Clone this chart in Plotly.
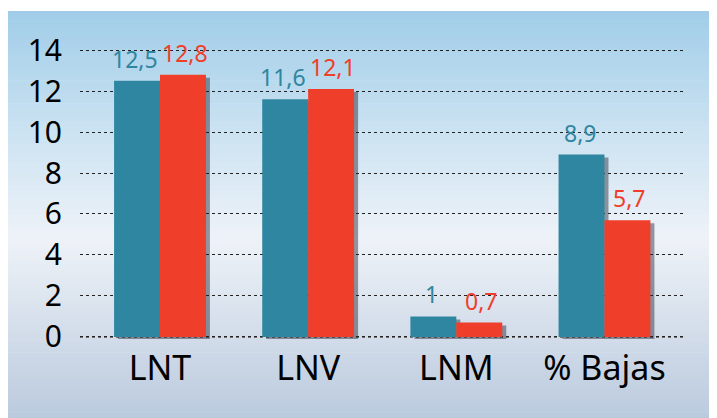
import plotly.graph_objects as go

categories = ["LNT", "LNV", "LNM", "% Bajas"]
serie_a = [12.5, 11.6, 1.0, 8.9]
serie_b = [12.8, 12.1, 0.7, 5.7]
y_ticks = [0, 2, 4, 6, 8, 10, 12, 14]

TEAL = "#2e86a0"
RED = "#ef3e2a"
FONT = "Noto Sans"

def fmt(v):
    return f"{v:g}".replace(".", ",")

# the page body has an 8px margin; figure coordinates are shifted by it
OFF = 8
W, H = 717, 418
L = 80 - OFF
R = W - (683 - OFF)
yr = [-0.1, 14.1]
px_per_unit = (337 - 50) / 14.0
T = round(50 - OFF - 0.1 * px_per_unit)
B = round(H - (337 - OFF + 0.1 * px_per_unit))
pw = W - L - R
ph = H - T - B
xr = [-0.54, 3.53]
dx = 4 / pw * (xr[1] - xr[0])
dy = 3 / ph * (yr[1] - yr[0])
BW = 0.31

fig = go.Figure()

# drop shadows behind the bars
for vals, off in ((serie_a, -BW), (serie_b, 0.0)):
    fig.add_trace(go.Bar(x=categories, y=vals, base=[-dy] * len(vals),
                         marker=dict(color="rgba(30,35,50,0.45)", line=dict(width=0)),
                         width=BW, offset=off + dx, hoverinfo="skip", showlegend=False,
                         cliponaxis=False))

fig.add_trace(go.Bar(x=categories, y=serie_a, name="A", marker=dict(color=TEAL, line=dict(width=0)),
                     width=BW, offset=-BW, cliponaxis=False))
fig.add_trace(go.Bar(x=categories, y=serie_b, name="B", marker=dict(color=RED, line=dict(width=0)),
                     width=BW, offset=0.0, cliponaxis=False))

bar_px = BW * pw / (xr[1] - xr[0])
annotations = []
for vals, color, sign in ((serie_a, TEAL, -1), (serie_b, RED, 1)):
    for c, v in zip(categories, vals):
        annotations.append(dict(x=c, y=v, xref="x", yref="y", text=fmt(v), showarrow=False,
                                xanchor="center", yanchor="bottom", xshift=sign * (bar_px / 2 + 2),
                                yshift=5, borderpad=0, font=dict(color=color, size=23, family=FONT)))

# gradient panel background via stripes (pixel based -> plot-paper coords)
stops = [(0.0, (160, 205, 232)), (0.3, (205, 227, 242)), (0.55, (238, 242, 248)), (1.0, (184, 200, 220))]
def col(t):
    for (t0, c0), (t1, c1) in zip(stops, stops[1:]):
        if t0 <= t <= t1:
            f = (t - t0) / (t1 - t0) if t1 > t0 else 0
            return "rgb(%d,%d,%d)" % tuple(round(a + (b - a) * f) for a, b in zip(c0, c1))
    return "rgb(%d,%d,%d)" % stops[-1][1]

shapes = []
n = 90
ptop, pbot = 11 - OFF, H
for i in range(n):
    py1 = ptop + (pbot - ptop) * i / n
    py0 = ptop + (pbot - ptop) * (i + 1) / n + 0.6
    shapes.append(dict(type="rect", xref="paper", yref="paper",
                       x0=(8 - OFF - L) / pw, x1=(W - L) / pw,
                       y0=(H - B - py0) / ph, y1=(H - B - py1) / ph,
                       fillcolor=col((i + 0.5) / n), line=dict(width=0), layer="below"))
shapes.append(dict(type="line", xref="paper", yref="y", x0=0, x1=1, y0=0, y1=0,
                   line=dict(color="#707070", width=2, dash="dot"), layer="below"))

fig.update_layout(
    width=W, height=H,
    margin=dict(l=L, r=R, t=T, b=B, autoexpand=False),
    paper_bgcolor="white", plot_bgcolor="rgba(0,0,0,0)",
    showlegend=False, barmode="overlay",
    shapes=shapes, annotations=annotations,
    font=dict(family=FONT, color="black"),
    xaxis=dict(range=xr, showgrid=False, zeroline=False, showline=False, ticks="",
               ticklabelstandoff=6,
               automargin=False, tickfont=dict(size=34, family=FONT, color="black")),
    yaxis=dict(range=yr, tickvals=y_ticks, showgrid=True, gridcolor="#222222", griddash="dot",
               gridwidth=1, zeroline=False, showline=False, ticks="", ticklabelstandoff=17,
               automargin=False, tickfont=dict(size=30, family=FONT, color="black")),
)

fig.write_html("out.html")
